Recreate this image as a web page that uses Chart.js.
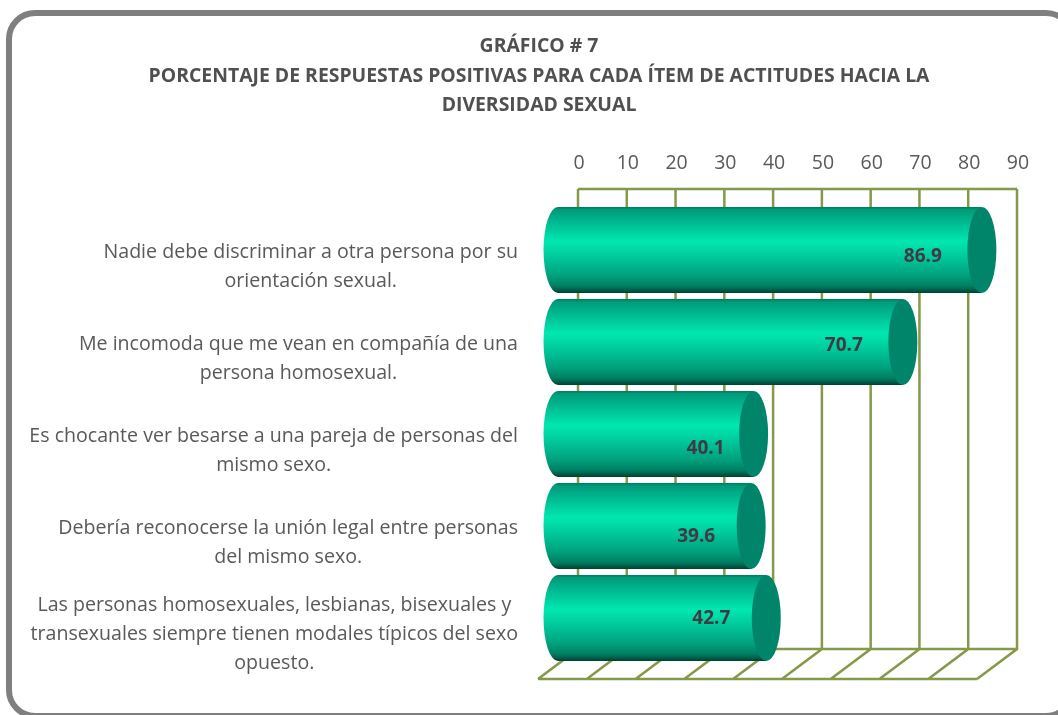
<!DOCTYPE html>
<html>
<head>
<meta charset="utf-8">
<title>Gráfico 7</title>
<script src="https://cdn.jsdelivr.net/npm/chart.js@4"></script>
<style>
html, body { margin: 0; padding: 0; background: #fff; }
#wrap { width: 1058px; height: 715px; }
</style>
</head>
<body>
<div id="wrap"><canvas id="chart7"></canvas></div>
<script>
var titleLines = [
    'GRÁFICO # 7',
    'PORCENTAJE DE RESPUESTAS POSITIVAS PARA CADA ÍTEM DE ACTITUDES HACIA LA',
    'DIVERSIDAD SEXUAL'
];
var categories = [
    ['Nadie debe discriminar a otra persona por su', 'orientación sexual.'],
    ['Me incomoda que me vean en compañía de una', 'persona homosexual.'],
    ['Es chocante ver besarse a una pareja de personas del', 'mismo sexo.'],
    ['Debería reconocerse la unión legal entre personas', 'del mismo sexo.'],
    ['Las personas homosexuales, lesbianas, bisexuales y', 'transexuales siempre tienen modales típicos del sexo', 'opuesto.']
];
var values = [86.9, 70.7, 40.1, 39.6, 42.7];

var fontName = '"Open Sans", sans-serif';
var gridColor = '#84994a';
var capColor = '#00856a';
// half the depth of the 3d box
var depthX = 20, depthY = 15;
// where the original put each value label, relative to the end of its bar
var labelShift = [[-59, 7], [-59, 4], [-48, 15], [-55, 11], [-55, 1]];

function barGradient(c) {
    var chart = c.chart;
    var y = chart.scales.y ? chart.scales.y.getPixelForValue(c.dataIndex) : NaN;
    // scales aren't laid out yet on the first pass
    if (!isFinite(y)) return '#00bd90';
    var h = 86;
    var g = chart.ctx.createLinearGradient(0, y - h / 2, 0, y + h / 2);
    g.addColorStop(0, '#00795e');
    g.addColorStop(0.03, '#009a78');
    g.addColorStop(0.12, '#00ad88');
    g.addColorStop(0.4, '#00e8b0');
    g.addColorStop(0.55, '#00cfa0');
    g.addColorStop(0.8, '#00a07c');
    g.addColorStop(0.92, '#007f62');
    g.addColorStop(0.98, '#00523f');
    g.addColorStop(1, '#003f30');
    return g;
}

var frame = {
    id: 'frame',
    beforeDraw: function(chart) {
        var ctx = chart.ctx;
        ctx.save();
        ctx.strokeStyle = '#7f7f7f';
        ctx.lineWidth = 6;
        ctx.beginPath();
        ctx.roundRect(9, 13, 1063, 703, 26);
        ctx.stroke();
        ctx.restore();
    }
};

var box3d = {
    id: 'box3d',
    beforeDatasetsDraw: function(chart) {
        var ctx = chart.ctx, x = chart.scales.x, area = chart.chartArea;
        var backTop = area.top - depthY, backBottom = area.bottom - depthY;
        var frontBottom = area.bottom + depthY;
        ctx.save();
        ctx.strokeStyle = gridColor;
        ctx.lineWidth = 2.5;
        ctx.beginPath();
        x.ticks.forEach(function(t) {
            var px = x.getPixelForValue(t.value);
            ctx.moveTo(px + depthX, backTop);
            ctx.lineTo(px + depthX, backBottom);
            ctx.lineTo(px - depthX, frontBottom);
        });
        ctx.moveTo(area.left + depthX, backTop);
        ctx.lineTo(area.right + depthX, backTop);
        ctx.moveTo(area.left + depthX, backBottom);
        ctx.lineTo(area.right + depthX, backBottom);
        ctx.moveTo(area.left - depthX, frontBottom);
        ctx.lineTo(area.right - depthX, frontBottom);
        ctx.stroke();
        ctx.restore();
    }
};

var cylinders = {
    id: 'cylinders',
    afterDatasetsDraw: function(chart) {
        var ctx = chart.ctx;
        var bars = chart.getDatasetMeta(0).data;
        ctx.save();
        bars.forEach(function(bar, i) {
            var rx = 14.5, ry = bar.height / 2;
            ctx.fillStyle = bar.options.backgroundColor;
            ctx.beginPath();
            ctx.ellipse(bar.base, bar.y, rx, ry, 0, Math.PI / 2, Math.PI * 1.5);
            ctx.fill();
            ctx.fillStyle = capColor;
            ctx.beginPath();
            ctx.ellipse(bar.x, bar.y, rx, ry, 0, 0, Math.PI * 2);
            ctx.fill();
            ctx.fillStyle = '#403a44';
            ctx.font = 'bold 19px ' + fontName;
            ctx.textAlign = 'center';
            ctx.textBaseline = 'middle';
            ctx.fillText(values[i].toFixed(1), bar.x + labelShift[i][0], bar.y + labelShift[i][1]);
        });
        ctx.restore();
    }
};

// the category labels are centred blocks pushed against the axis, which ticks can't do
var blockLabels = {
    id: 'blockLabels',
    afterDraw: function(chart) {
        var ctx = chart.ctx, y = chart.scales.y;
        var right = 518, lineH = 29, drop = 16.5;
        ctx.save();
        ctx.fillStyle = '#595959';
        ctx.font = '19.6px ' + fontName;
        ctx.textAlign = 'center';
        ctx.textBaseline = 'middle';
        categories.forEach(function(lines, i) {
            var w = 0;
            lines.forEach(function(l) { w = Math.max(w, ctx.measureText(l).width); });
            var top = y.getPixelForValue(i) + drop - (lines.length - 1) * lineH / 2;
            lines.forEach(function(l, n) {
                ctx.fillText(l, right - w / 2, top + n * lineH);
            });
        });
        ctx.restore();
    }
};

document.addEventListener('DOMContentLoaded', function() {
    var ctx = document.getElementById('chart7').getContext('2d');
    new Chart(ctx, {
        type: 'bar',
        data: {
            labels: categories,
            datasets: [{
                label: 'Porcentaje',
                data: values,
                backgroundColor: barGradient,
                borderWidth: 0,
                barPercentage: 0.935,
                categoryPercentage: 1
            }]
        },
        options: {
            indexAxis: 'y',
            responsive: true,
            maintainAspectRatio: false,
            animation: false,
            layout: { padding: { left: 81, right: 61, top: 0, bottom: 51 } },
            plugins: {
                legend: { display: false },
                tooltip: { enabled: false },
                title: {
                    display: true,
                    text: titleLines,
                    color: '#505050',
                    font: { family: fontName, size: 19.4, weight: 'bold', lineHeight: 1.546 },
                    padding: { top: 31, bottom: 0 }
                }
            },
            scales: {
                x: {
                    position: 'top',
                    min: 0,
                    max: 90,
                    grid: { display: false },
                    border: { display: false },
                    ticks: {
                        stepSize: 10,
                        maxRotation: 0,
                        color: '#595959',
                        font: { family: fontName, size: 19.5 },
                        labelOffset: 21,
                        padding: 21
                    },
                    afterFit: function(s) { s.height = 83; }
                },
                y: {
                    grid: { display: false },
                    border: { display: false },
                    ticks: { display: false },
                    afterFit: function(s) { s.width = 477; }
                }
            }
        },
        plugins: [frame, box3d, cylinders, blockLabels]
    });
});
</script>
</body>
</html>
